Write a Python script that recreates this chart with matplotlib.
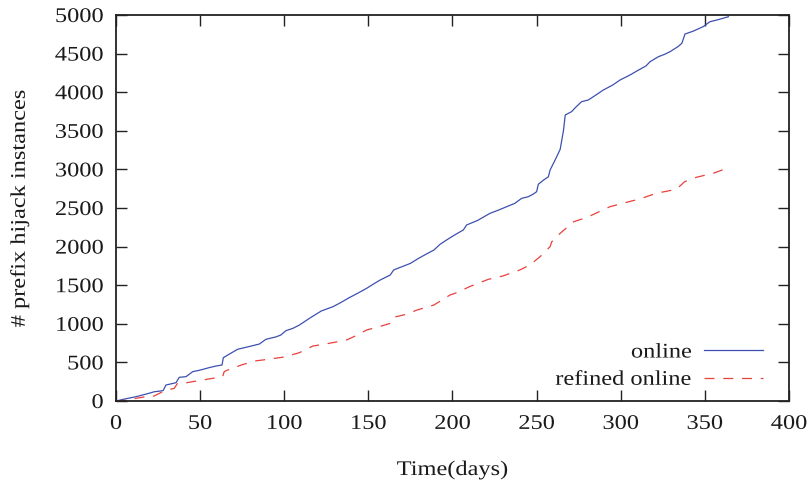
import matplotlib
matplotlib.use("Agg")
import matplotlib.pyplot as plt
from matplotlib.patheffects import AbstractPathEffect
from matplotlib.transforms import Affine2D

# ---- data ----
days_online = [0, 5, 11.9, 18, 22.8, 26.7, 28, 29.7, 35.7, 37.6, 41.6, 45.6, 50, 55, 59.4, 63, 63.8,
               66, 72.3, 80, 85.2, 89.1, 95, 98, 101, 105, 109, 115, 122, 129, 134, 138, 144, 149,
               153, 157, 163, 165, 170, 175, 180, 185, 189, 192.6, 198, 202, 206.4, 208.4, 215,
               222.3, 227, 232.2, 237, 241.1, 245, 248, 250, 251, 254, 257, 258, 261, 264, 266,
               267, 270.8, 273, 276.7, 280.7, 285, 289.6, 295, 299.6, 305.5, 310, 315, 317.4,
               322.4, 326, 329.3, 334, 336.3, 338.2, 343, 349, 353, 358, 364]
online = [0, 25, 56, 90, 120, 130, 135, 207, 237, 307, 315, 380, 400, 430, 453, 466, 561,
          590, 670, 710, 738, 799, 830, 855, 911, 940, 984, 1071, 1166, 1222, 1280, 1331, 1400, 1460,
          1515, 1567, 1632, 1697, 1740, 1783, 1850, 1910, 1956, 2030, 2107, 2160, 2215, 2280, 2340,
          2431, 2470, 2517, 2560, 2625, 2646, 2680, 2711, 2807, 2860, 2905, 2992, 3122, 3260, 3510,
          3705, 3748, 3800, 3877, 3899, 3960, 4028, 4090, 4158, 4223, 4280, 4340, 4395,
          4460, 4490, 4525, 4590, 4633, 4754, 4790, 4849, 4913, 4940, 4978]

days_refined = [0, 6, 12, 17.8, 21.8, 27.7, 30, 34.6, 36.6, 42, 51.5, 63.4, 64.3, 66.3, 75, 83.6,
                87.2, 100, 109, 117, 125, 137, 143, 149, 156, 163, 165, 172, 179, 189, 198.5,
                202.5, 210, 221.3, 230, 240, 246, 252, 258, 259, 264, 272, 280, 293.6, 306.5,
                311.4, 321, 333, 338, 345, 355, 363]
refined = [0, 10, 35, 56, 56, 120, 140, 164, 229, 237, 272, 315, 380, 401, 470, 522,
           531, 570, 626, 712, 740, 790, 850, 920, 960, 1006, 1084, 1120, 1179, 1244, 1373,
           1403, 1480, 1576, 1620, 1697, 1762, 1869, 1999, 2063, 2172, 2322, 2379, 2517, 2591,
           2617, 2690, 2742, 2841, 2898, 2950, 3014]

x_ticks = [0, 50, 100, 150, 200, 250, 300, 350, 400]
y_ticks = [0, 500, 1000, 1500, 2000, 2500, 3000, 3500, 4000, 4500, 5000]
series_labels = ["online", "refined online"]
x_label = "Time(days)"
y_label = "# prefix hijack instances"


class Stretch(AbstractPathEffect):
    """Stretch glyph paths along the text direction around an anchor."""
    def __init__(self, sx, frac):
        super().__init__()
        self.sx = sx
        self.frac = frac

    def draw_path(self, renderer, gc, tpath, affine, rgbFace=None):
        ext = tpath.get_extents()
        a = ext.x0 + self.frac * (ext.x1 - ext.x0)
        pre = Affine2D().translate(-a, 0).scale(self.sx, 1).translate(a, 0)
        renderer.draw_path(gc, tpath, pre + affine, rgbFace)


# ---- style ----
plt.rcParams['font.family'] = ['Liberation Serif', 'DejaVu Serif']
FS = 15
SX = 1.17
TXT = '#1a1a1a'

fig = plt.figure(figsize=(8.12, 4.86), dpi=100)
W, H = 812, 486
ax = fig.add_axes([116 / W, (H - 401) / H, 673 / W, 386 / H])

ax.plot(days_online, online, color='#3d50b0', lw=0.9, label=series_labels[0])
ax.plot(days_refined, refined, color='#e8413c', lw=0.9, linestyle=(0, (8, 7)),
        label=series_labels[1])

ax.set_xlim(0, 400)
ax.set_ylim(0, 5000)
ax.set_xticks(x_ticks)
ax.set_yticks(y_ticks)
ax.tick_params(direction='in', top=True, right=True, length=8, width=1.0,
               labelsize=FS, color='#222222', labelcolor=TXT)
ax.tick_params(axis='y', pad=9)
ax.tick_params(axis='x', pad=10)
for s in ax.spines.values():
    s.set_linewidth(1.3)
    s.set_color('#222222')

xl = ax.set_xlabel(x_label, fontsize=FS, color=TXT, labelpad=19)
yl = ax.set_ylabel(y_label, fontsize=FS, color=TXT, labelpad=23)
xl.set_path_effects([Stretch(SX, 0.5)])
yl.set_path_effects([Stretch(SX, 0.5)])
for t in ax.get_xticklabels():
    t.set_path_effects([Stretch(SX, 0.5)])
for t in ax.get_yticklabels():
    t.set_path_effects([Stretch(SX, 1.0)])

leg = ax.legend(loc='lower right', bbox_to_anchor=(0.961, 0.029), frameon=False,
                markerfirst=False, fontsize=FS, handlelength=2.8, handletextpad=0.6,
                labelspacing=0.37, borderpad=0, borderaxespad=0)
for t in leg.get_texts():
    t.set_color(TXT)
    t.set_path_effects([Stretch(SX, 1.0)])

fig.savefig("out.png", dpi=100)
